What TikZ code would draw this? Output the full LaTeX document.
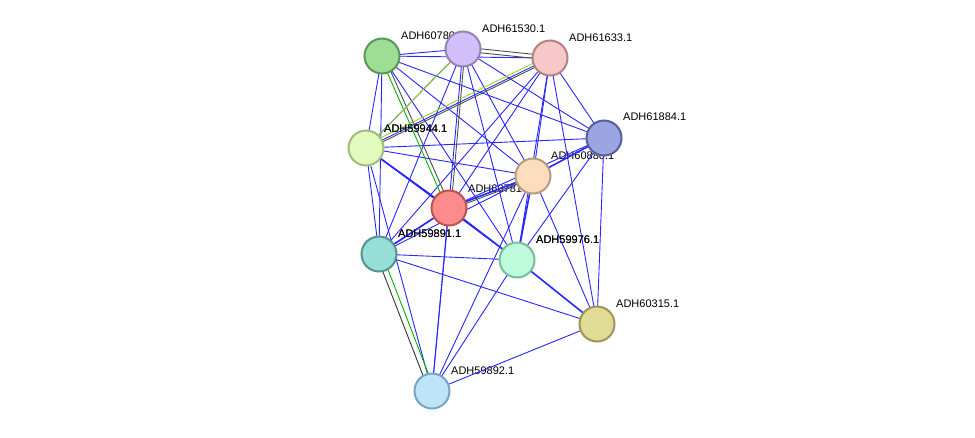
\documentclass[tikz,border=0pt]{standalone}
\usepackage{fontspec}
\setmainfont{Liberation Sans}
\begin{document}
\begin{tikzpicture}[x=1pt,y=-1pt,
 nd/.style={circle,minimum size=35pt,inner sep=0pt,line width=2pt},
 lb/.style={anchor=south west,font=\fontsize{11}{13}\selectfont,inner sep=0pt},
 e/.style={blue!85!white,line width=0.9pt},
 ek/.style={blue!85!white,line width=1.6pt}]
\useasboundingbox (0,0) rectangle (975,437);
\path (382,56) coordinate (A) (463,49) coordinate (B) (550,58) coordinate (C)
 (604,138) coordinate (D) (366,148) coordinate (E) (533,176) coordinate (F)
 (449,208) coordinate (G) (379,254) coordinate (H) (517,260) coordinate (I)
 (597,324) coordinate (J) (432,391) coordinate (K);
% labels (drawn under nodes)
\node[lb] at (401,40) {ADH60780.1};
\node[lb] at (482,33) {ADH61530.1};
\node[lb] at (569,42) {ADH61633.1};
\node[lb] at (623,121) {ADH61884.1};
\node[lb] at (384,133) {ADH59944.1};
\node[lb] at (551,160) {ADH60880.1};
\node[lb] at (468,193) {ADH60781.1};
\node[lb] at (398,238) {ADH59891.1};
\node[lb] at (536,244) {ADH59976.1};
\node[lb] at (616,308) {ADH60315.1};
\node[lb] at (451,375) {ADH59892.1};
% edges
\foreach \a/\b in {A/B,A/C,A/E,A/H,A/F,A/I,A/D,B/H,B/F,B/I,B/D,B/K,C/G,C/H,C/F,C/I,C/J,C/D,
 D/E,D/G,D/J,D/I,E/F,E/H,E/I,E/K,F/H,F/J,F/K,G/H,G/K,H/I,H/J,I/K,J/K,B/E,C/E}
  \draw[e] (\a)--(\b);
\foreach \a/\b in {G/I,I/J,E/G,F/I,D/F,G/F,G/H}
  \draw[ek] (\a)--(\b);
% multi-evidence edges
\draw[green!70!black,line width=0.9pt] ([xshift=-2pt]A)--([xshift=-2pt]G);
\draw[black!70,line width=0.9pt] ([xshift=2pt]A)--([xshift=2pt]G);
\draw[black!70,line width=0.9pt] ([yshift=-2pt]B)--([yshift=-2pt]C);
\draw[black!70,line width=0.9pt] ([yshift=2pt]B)--([yshift=2pt]C);
\draw[yellow!60!green,line width=0.9pt] ([xshift=2pt,yshift=2pt]B)--([xshift=2pt,yshift=2pt]E);
\draw[black!70,line width=0.9pt] ([xshift=2pt]B)--([xshift=2pt]G);
\draw[black!70,line width=0.9pt] ([yshift=-2pt]C)--([yshift=-2pt]E);
\draw[yellow!60!green,line width=0.9pt] ([yshift=3pt]C)--([yshift=3pt]E);
\draw[black!70,line width=0.9pt] ([yshift=-2pt]G)--([yshift=-2pt]F);
\draw[black!80,line width=0.9pt] ([xshift=-3pt]H)--([xshift=-3pt]K);
\draw[green!70!black,line width=0.9pt] ([xshift=3pt]H)--([xshift=3pt]K);
% nodes
\node[nd,fill=green!45!white!85!black!0,fill={rgb,255:red,158;green,222;blue,148},draw={rgb,255:red,90;green,150;blue,85}] (nA) at (A) {};
\node[nd,fill={rgb,255:red,210;green,190;blue,250},draw={rgb,255:red,150;green,130;blue,180}] (nB) at (B) {};
\node[nd,fill={rgb,255:red,248;green,200;blue,200},draw={rgb,255:red,180;green,130;blue,130}] (nC) at (C) {};
\node[nd,fill={rgb,255:red,155;green,165;blue,225},draw={rgb,255:red,85;green,95;blue,160}] (nD) at (D) {};
\node[nd,fill={rgb,255:red,225;green,250;blue,190},draw={rgb,255:red,160;green,190;blue,120}] (nE) at (E) {};
\node[nd,fill={rgb,255:red,252;green,222;blue,190},draw={rgb,255:red,185;green,155;blue,125}] (nF) at (F) {};
\node[nd,fill={rgb,255:red,252;green,140;blue,140},draw={rgb,255:red,190;green,80;blue,80}] (nG) at (G) {};
\node[nd,fill={rgb,255:red,150;green,222;blue,215},draw={rgb,255:red,85;green,150;blue,140}] (nH) at (H) {};
\node[nd,fill={rgb,255:red,190;green,250;blue,220},draw={rgb,255:red,120;green,190;blue,155}] (nI) at (I) {};
\node[nd,fill={rgb,255:red,224;green,220;blue,150},draw={rgb,255:red,155;green,150;blue,85}] (nJ) at (J) {};
\node[nd,fill={rgb,255:red,190;green,228;blue,250},draw={rgb,255:red,120;green,165;blue,195}] (nK) at (K) {};
% labels partly over edges: re-place visible parts over nodes where reference shows them
\node[lb] at (384,133) {ADH59944.1};
\node[lb] at (398,238) {ADH59891.1};
\node[lb] at (536,244) {ADH59976.1};
\end{tikzpicture}
\end{document}
